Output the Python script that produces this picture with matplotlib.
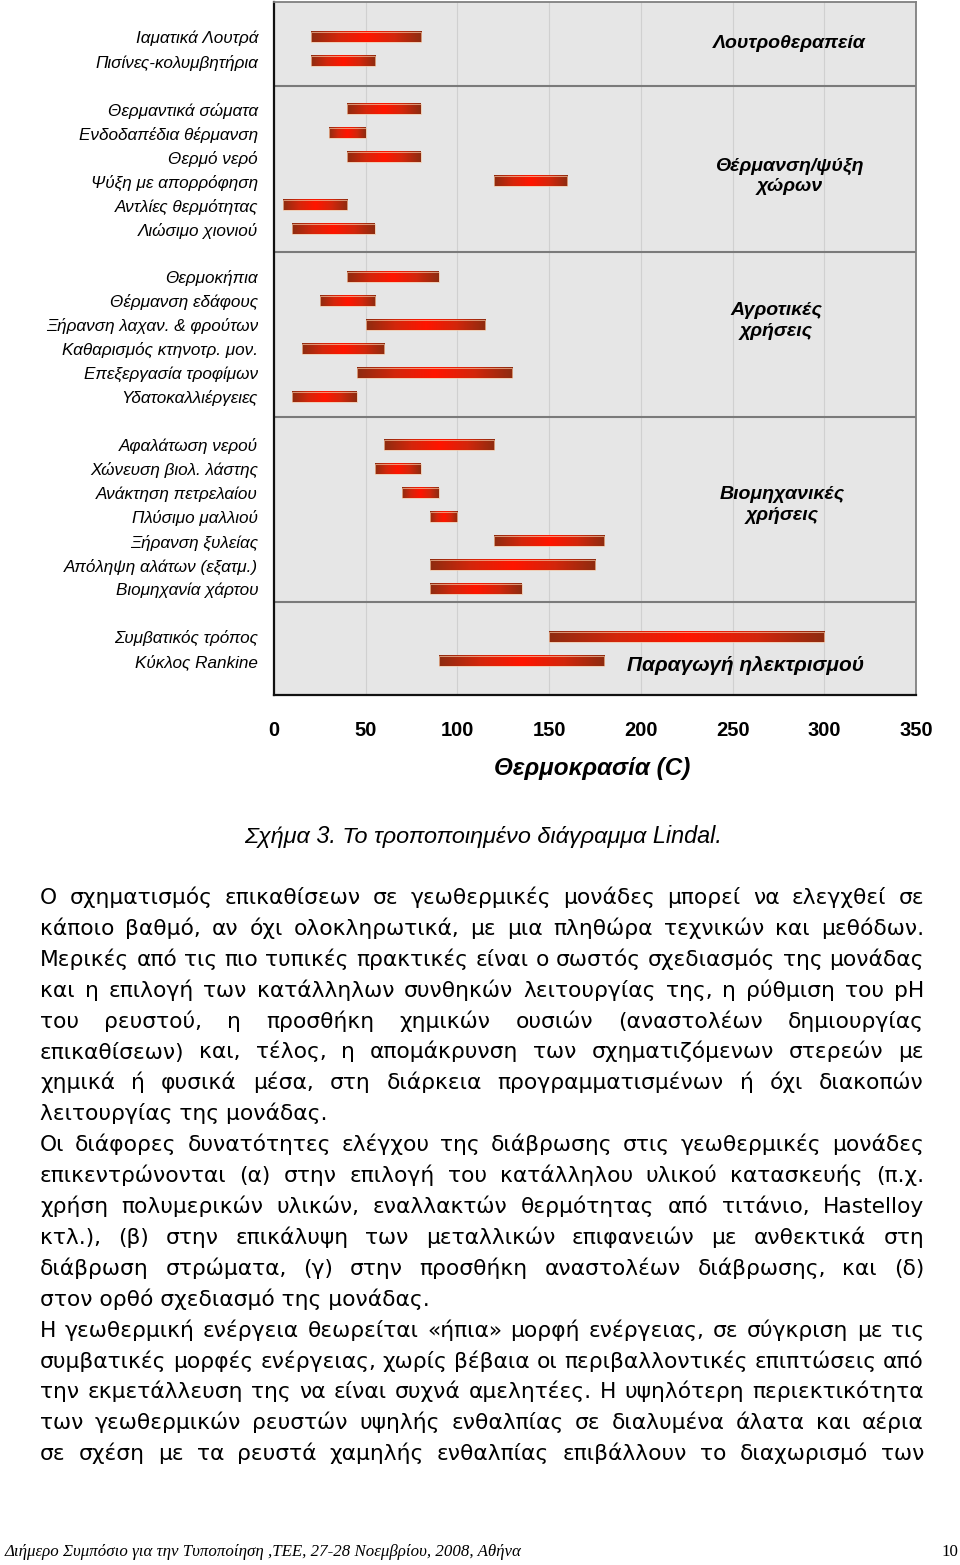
import numpy as np
import matplotlib
matplotlib.use('Agg')
import matplotlib.pyplot as plt
from matplotlib.colors import LinearSegmentedColormap
from matplotlib.patches import Rectangle

# ---- data: Lindal diagram (temperature ranges per use, deg C) ----
uses = ['Ιαματικά Λουτρά', 'Πισίνες-κολυμβητήρια',
        'Θερμαντικά σώματα', 'Ενδοδαπέδια θέρμανση', 'Θερμό νερό',
        'Ψύξη με απορρόφηση', 'Αντλίες θερμότητας', 'Λιώσιμο χιονιού',
        'Θερμοκήπια', 'Θέρμανση εδάφους', 'Ξήρανση λαχαν. & φρούτων',
        'Καθαρισμός κτηνοτρ. μον.', 'Επεξεργασία τροφίμων', 'Υδατοκαλλιέργειες',
        'Αφαλάτωση νερού', 'Χώνευση βιολ. λάστης', 'Ανάκτηση πετρελαίου',
        'Πλύσιμο μαλλιού', 'Ξήρανση ξυλείας', 'Απόληψη αλάτων (εξατμ.)',
        'Βιομηχανία χάρτου',
        'Συμβατικός τρόπος', 'Κύκλος Rankine']
t_low = [20, 20,
         40, 30, 40, 120, 5, 10,
         40, 25, 50, 15, 45, 10,
         60, 55, 70, 85, 120, 85, 85,
         150, 90]
t_high = [80, 55,
          80, 50, 80, 160, 40, 55,
          90, 55, 115, 60, 130, 45,
          120, 80, 90, 100, 180, 175, 135,
          300, 180]
use_group = [0, 0,
             1, 1, 1, 1, 1, 1,
             2, 2, 2, 2, 2, 2,
             3, 3, 3, 3, 3, 3, 3,
             4, 4]
group_names = ['Λουτροθεραπεία', 'Θέρμανση/ψύξη\nχώρων', 'Αγροτικές\nχρήσεις',
               'Βιομηχανικές\nχρήσεις', 'Παραγωγή ηλεκτρισμού']
temp_ticks = [0, 50, 100, 150, 200, 250, 300, 350]

caption = 'Σχήμα 3. Το τροποποιημένο διάγραμμα Lindal.'
body_lines = [
    ('Ο σχηματισμός επικαθίσεων σε γεωθερμικές μονάδες μπορεί να ελεγχθεί σε', True),
    ('κάποιο βαθμό, αν όχι ολοκληρωτικά, με μια πληθώρα τεχνικών και μεθόδων.', True),
    ('Μερικές από τις πιο τυπικές πρακτικές είναι ο σωστός σχεδιασμός της μονάδας', True),
    ('και η επιλογή των κατάλληλων συνθηκών λειτουργίας της, η ρύθμιση του pH', True),
    ('του ρευστού, η προσθήκη χημικών ουσιών (αναστολέων δημιουργίας', True),
    ('επικαθίσεων) και, τέλος, η απομάκρυνση των σχηματιζόμενων στερεών με', True),
    ('χημικά ή φυσικά μέσα, στη διάρκεια προγραμματισμένων ή όχι διακοπών', True),
    ('λειτουργίας της μονάδας.', False),
    ('Οι διάφορες δυνατότητες ελέγχου της διάβρωσης στις γεωθερμικές μονάδες', True),
    ('επικεντρώνονται (α) στην επιλογή του κατάλληλου υλικού κατασκευής (π.χ.', True),
    ('χρήση πολυμερικών υλικών, εναλλακτών θερμότητας από τιτάνιο, Hastelloy', True),
    ('κτλ.), (β) στην επικάλυψη των μεταλλικών επιφανειών με ανθεκτικά στη', True),
    ('διάβρωση στρώματα, (γ) στην προσθήκη αναστολέων διάβρωσης, και (δ)', True),
    ('στον ορθό σχεδιασμό της μονάδας.', False),
    ('Η γεωθερμική ενέργεια θεωρείται «ήπια» μορφή ενέργειας, σε σύγκριση με τις', True),
    ('συμβατικές μορφές ενέργειας, χωρίς βέβαια οι περιβαλλοντικές επιπτώσεις από', True),
    ('την εκμετάλλευση της να είναι συχνά αμελητέες. Η υψηλότερη περιεκτικότητα', True),
    ('των γεωθερμικών ρευστών υψηλής ενθαλπίας σε διαλυμένα άλατα και αέρια', True),
    ('σε σχέση με τα ρευστά χαμηλής ενθαλπίας επιβάλλουν το διαχωρισμό των', True),
]
footer = 'Διήμερο Συμπόσιο για την Τυποποίηση ,ΤΕΕ, 27-28 Νοεμβρίου, 2008, Αθήνα'
page_no = '10'

# ---- layout (pixels of a 960x1565 page) ----
W, H = 960, 1565
fig = plt.figure(figsize=(W / 100, H / 100), dpi=100)
fig.patch.set_facecolor('white')


def fx(px):
    return px / W


def fy(py):
    return 1 - py / H


ax = fig.add_axes([fx(274), fy(695), (916 - 274) / W, (695 - 2) / H])
ax.set_facecolor('#e6e6e6')

slots = [i + g for i, g in enumerate(use_group)]
bar_cmap = LinearSegmentedColormap.from_list(
    'bar', ['#8e2c10', '#d4260b', '#ff1500', '#d4260b', '#8e2c10'])
grad = np.linspace(0, 1, 256).reshape(1, -1)
bh = 0.43
for lo, hi, s in zip(t_low, t_high, slots):
    ax.imshow(grad, extent=(lo, hi, s + bh / 2, s - bh / 2), aspect='auto',
              cmap=bar_cmap, interpolation='bilinear', zorder=3)
    ax.add_patch(Rectangle((lo, s - bh / 2), hi - lo, bh, fill=False,
                           ec='#f2c4a2', lw=0.5, zorder=4))

for t in temp_ticks[1:-1]:
    ax.axvline(t, color='#d0d0d0', lw=0.8, zorder=1)
for ysep in [2.03, 8.96, 15.83, 23.54]:
    ax.axhline(ysep, color='#7a7a7a', lw=1.5, zorder=2)

label_pos = [(281, 0.29), (281, 5.8), (274, 11.83), (277, 19.5), (257, 26.17)]
label_size = [14, 14, 14, 14, 15]
for name, (gx, gy), fs in zip(group_names, label_pos, label_size):
    ax.text(gx, gy, name, ha='center', va='center', fontsize=fs,
            fontweight='bold', fontstyle='italic', family='Liberation Sans',
            linespacing=1.25, zorder=5)

ax.set_xlim(0, 350)
ax.set_ylim(27.42, -1.46)
ax.set_yticks(slots)
ax.set_yticklabels(uses, fontstyle='italic', fontsize=12.3, family='Liberation Sans')
ax.tick_params(axis='y', length=0, pad=11.5)
ax.set_xticks(temp_ticks)
ax.set_xticklabels([str(t) for t in temp_ticks], fontweight='bold', fontsize=14.5,
                   family='Liberation Sans')
ax.tick_params(axis='x', length=0, pad=19)
for side in ['left', 'bottom']:
    ax.spines[side].set_color('#111111'); ax.spines[side].set_linewidth(1.6)
for side in ['top', 'right']:
    ax.spines[side].set_color('#808080'); ax.spines[side].set_linewidth(1.3)

fig.text(fx(592.5), fy(768), 'Θερμοκρασία (C)', ha='center', va='center',
         fontsize=17.5, fontweight='bold', fontstyle='italic', family='Liberation Sans')
fig.text(fx(483), fy(836), caption, ha='center', va='center', fontsize=16.8,
         fontstyle='italic', family='Liberation Sans')

# ---- justified body text ----
renderer = fig.canvas.get_renderer()
style = dict(family='DejaVu Sans', fontsize=15.7, color='black')
left, right = 40, 924
y0, dy = 904, 30.9
for i, (line, just) in enumerate(body_lines):
    yb = fy(y0 + i * dy)
    if not just:
        fig.text(fx(left), yb, line, ha='left', va='baseline', **style)
        continue
    words = line.split()
    texts = [fig.text(0, yb, w, ha='left', va='baseline', **style) for w in words]
    widths = [t.get_window_extent(renderer).width for t in texts]
    gap = (right - left - sum(widths)) / (len(words) - 1)
    x = left
    for t, w in zip(texts, widths):
        t.set_x(fx(x)); x += w + gap

fig.text(fx(5), fy(1552), footer, ha='left', va='center', fontsize=12.2,
         fontstyle='italic', family='Liberation Serif')
fig.text(fx(958), fy(1552), page_no, ha='right', va='center', fontsize=12.2,
         family='Liberation Serif')

fig.savefig('out.png', dpi=100)
print('done')
